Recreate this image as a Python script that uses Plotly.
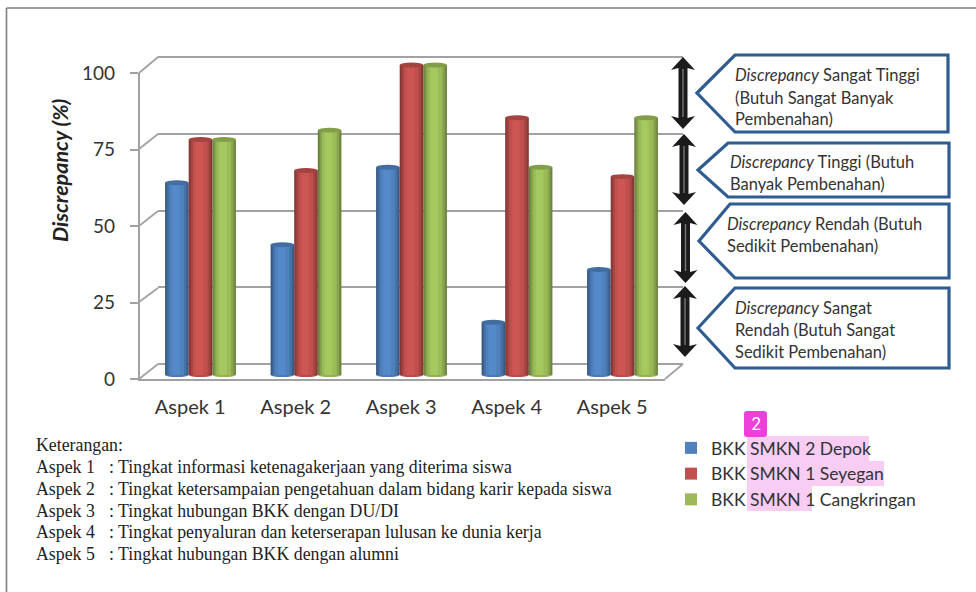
import plotly.graph_objects as go

W, H = 976, 592
categories = ["Aspek 1", "Aspek 2", "Aspek 3", "Aspek 4", "Aspek 5"]
series_names = ["BKK SMKN 2 Depok", "BKK SMKN 1 Seyegan", "BKK SMKN 1 Cangkringan"]
depok = [62, 42, 67, 17, 34]
seyegan = [76, 66, 100, 83, 64]
cangkringan = [76, 79, 100, 67, 83]
y_ticks = [0, 25, 50, 75, 100]

notes_title = "Keterangan:"
note_descriptions = [
    ": Tingkat informasi ketenagakerjaan yang diterima siswa",
    ": Tingkat ketersampaian pengetahuan dalam bidang karir kepada siswa",
    ": Tingkat hubungan BKK dengan DU/DI",
    ": Tingkat penyaluran dan keterserapan lulusan ke dunia kerja",
    ": Tingkat hubungan BKK dengan alumni",
]
callout_texts = [
    ["<i>Discrepancy</i> Sangat Tinggi", "(Butuh Sangat Banyak", "Pembenahan)"],
    ["<i>Discrepancy</i> Tinggi (Butuh", "Banyak Pembenahan)"],
    ["<i>Discrepancy</i> Rendah (Butuh", "Sedikit Pembenahan)"],
    ["<i>Discrepancy</i> Sangat", "Rendah (Butuh Sangat", "Sedikit Pembenahan)"],
]

BASE = [(79, 129, 189), (192, 80, 77), (155, 187, 89)]
LAYERS = [(0.0, 1.0, 0.66), (0.04, 0.96, 0.76), (0.10, 0.90, 0.88), (0.18, 0.80, 1.0), (0.30, 0.62, 1.07)]
SANS = "Lato"
SERIF = "Liberation Serif"
GRAY = "#a2a2a2"


def px(x):
    return x / W


def py(y):
    return 1 - y / H


def shade(rgb, f):
    return "rgb(%d,%d,%d)" % tuple(min(255, int(c * f)) for c in rgb)


def poly(points, **kw):
    path = "M" + " L".join(f"{px(x):.5f},{py(y):.5f}" for x, y in points) + " Z"
    return dict(type="path", xref="paper", yref="paper", path=path, **kw)


def seg(x0, y0, x1, y1, color=GRAY, width=1.8):
    return dict(type="line", xref="paper", yref="paper", x0=px(x0), y0=py(y0), x1=px(x1), y1=py(y1),
                line=dict(color=color, width=width), layer="below")


def rect(x0, y0, x1, y1, color, layer="below"):
    return dict(type="rect", xref="paper", yref="paper", x0=px(x0), y0=py(y0), x1=px(x1), y1=py(y1),
                fillcolor=color, line_width=0, layer=layer)


def label(x, y, text, font, **kw):
    base = dict(x=px(x), y=py(y), xref="paper", yref="paper", text=text, showarrow=False,
                xanchor="left", yanchor="middle", font=font)
    base.update(kw)
    return base


fig = go.Figure()
fig.add_trace(go.Scatter(x=[0], y=[0], mode="markers", marker_opacity=0, showlegend=False,
                         hoverinfo="skip", xaxis="x", yaxis="y"))
fig.add_trace(go.Scatter(x=[0], y=[0], mode="markers", marker_opacity=0, showlegend=False,
                         hoverinfo="skip", xaxis="x2", yaxis="y2"))

shapes = []
annotations = []

# page frame
shapes.append(seg(6.5, 592, 6.5, 8, "#808080", 1.6))
shapes.append(seg(6.5, 8, 976, 8, "#808080", 1.6))

# 3D box edges joining the front axis to the back wall
for t_front, t_back in [(379, 364), (302, 288), (226, 211), (149, 134), (73, 57)]:
    shapes.append(seg(139, t_front, 158, t_back))
shapes.append(seg(665, 379, 683, 364))

# cylinders
bar_w = 23.6 / 105.5
for s, (name, vals) in enumerate(zip(series_names, [depok, seyegan, cangkringan])):
    left = (s - 1.5) * bar_w
    for a, b, f in LAYERS:
        fig.add_trace(go.Bar(
            x=list(range(len(categories))), y=vals, name=name,
            width=(b - a) * bar_w, offset=left + a * bar_w,
            marker=dict(color=shade(BASE[s], f), line_width=0),
            showlegend=(f == 1.0), xaxis="x3", yaxis="y3", hoverinfo="skip",
        ))
    for i, v in enumerate(vals):
        x0, x1 = i + left, i + left + bar_w
        shapes.append(dict(type="circle", xref="x3", yref="y3", x0=x0, x1=x1, y0=-0.7, y1=0.7,
                           fillcolor=shade(BASE[s], 0.95), line_width=0, layer="between"))
        shapes.append(dict(type="circle", xref="x3", yref="y3", x0=x0, x1=x1, y0=v - 0.8, y1=v + 0.8,
                           fillcolor=shade(BASE[s], 0.85), line_width=0, layer="above"))

# callouts
callouts = [
    ((697, 93), 735, 55, 948, 132, 735, [75, 98, 119], 733),
    ((698, 170), 728, 143, 949, 197, 728, [162, 184], 728),
    ((699, 241), 730, 204, 949, 278, 735, [224, 246], 725),
    ((698, 328), 735, 288, 949, 368, 735, [308, 330, 352], 733),
]
callout_font = dict(family=SANS, size=16.5, color="#333333")
for (tip, tlx, ty, rx, by, blx, lines_y, tx), lines in zip(callouts, callout_texts):
    shapes.append(poly([tip, (tlx, ty), (rx, ty), (rx, by), (blx, by)],
                       fillcolor="white", line=dict(color="#2f5c91", width=3.2)))
    for ly, text in zip(lines_y, lines):
        annotations.append(label(tx, ly, text, callout_font))

# double arrows
for cx, y0, y1 in [(683, 57, 129), (684, 134, 205), (685.5, 212, 283), (685, 286, 357)]:
    hw, sw, hh = 12, 4.5, 13
    shapes.append(poly([(cx, y0), (cx + hw, y0 + hh), (cx + sw, y0 + hh - 2), (cx + sw, y1 - hh + 2),
                        (cx + hw, y1 - hh), (cx, y1), (cx - hw, y1 - hh), (cx - sw, y1 - hh + 2),
                        (cx - sw, y0 + hh - 2), (cx - hw, y0 + hh)], fillcolor="#1b1b1b", line_width=0))
    shapes.append(seg(cx, y0 + 12, cx, y1 - 12, "#777777", 1.4) | {"layer": "above"})

# highlights and badge in the legend area
for x0, y0, x1, y1 in [(747, 436, 869, 461), (747, 461, 884, 486), (747, 486, 812, 511)]:
    shapes.append(rect(x0, y0, x1, y1, "#f8cdf3"))
bx0, bx1, by0, by1, r = px(744), px(767), py(437), py(411), 3 / W
ry = 3 / H
shapes.append(dict(type="path", xref="paper", yref="paper", fillcolor="#ee3fd9", line_width=0,
                   path=f"M{bx0 + r},{by0} L{bx1 - r},{by0} Q{bx1},{by0} {bx1},{by0 + ry} L{bx1},{by1 - ry} "
                        f"Q{bx1},{by1} {bx1 - r},{by1} L{bx0 + r},{by1} Q{bx0},{by1} {bx0},{by1 - ry} "
                        f"L{bx0},{by0 + ry} Q{bx0},{by0} {bx0 + r},{by0} Z"))
annotations.append(label(755.5, 424, "2", dict(family="Inter", size=17, color="white"), xanchor="center"))

# y title
annotations.append(label(60, 170, "<b><i>Discrepancy (%)</i></b>", dict(family=SANS, size=21.5, color="#222222"),
                         xanchor="center", textangle=-90))

# notes
note_font = dict(family=SERIF, size=17.8, color="#222222")
annotations.append(label(34, 445, notes_title, note_font))
for i, (cat, desc) in enumerate(zip(categories, note_descriptions)):
    ly = [467, 489, 511, 532, 554][i]
    annotations.append(label(34, ly, cat, note_font))
    annotations.append(label(107, ly, desc, note_font))

fig.update_layout(
    width=W, height=H, margin=dict(l=0, r=0, t=0, b=0, autoexpand=False), autosize=False,
    paper_bgcolor="white", plot_bgcolor="rgba(0,0,0,0)", barmode="overlay",
    shapes=shapes, annotations=annotations,
    legend=dict(x=px(671), y=py(430), xanchor="left", yanchor="top", bgcolor="rgba(0,0,0,0)",
                font=dict(family=SANS, size=17.5, color="#333333")),
    # back wall
    xaxis=dict(domain=[px(158), px(683)], range=[0, 1], visible=False, anchor="y"),
    yaxis=dict(domain=[py(367.07), py(53.93)], range=[-1, 101], tickvals=y_ticks, showticklabels=False, ticks="",
               showgrid=True, gridcolor=GRAY, gridwidth=1.8, zeroline=False, showline=False, anchor="x"),
    # front axes
    xaxis2=dict(domain=[px(137.5), px(665)], range=[-0.5, 4.5], tickvals=list(range(len(categories))),
                ticktext=categories, showline=True, linecolor=GRAY, linewidth=2.4, showgrid=False,
                zeroline=False, ticks="", ticklabelstandoff=9, anchor="y2",
                tickfont=dict(family=SANS, size=20, color="#333333")),
    yaxis2=dict(domain=[py(379), py(73)], range=[0, 100], tickvals=y_ticks, showline=True, linecolor=GRAY,
                linewidth=2.4, showgrid=False, zeroline=False, ticks="outside", ticklen=8, tickcolor=GRAY,
                tickwidth=1.6, ticklabelstandoff=11, anchor="free", position=px(139),
                tickfont=dict(family=SANS, size=19, color="#333333")),
    # cylinders
    xaxis3=dict(domain=[px(147.75), px(675.25)], range=[-0.5, 4.5], visible=False, anchor="y3"),
    yaxis3=dict(domain=[py(390.45), py(49.55)], range=[-5, 105], visible=False, anchor="x3"),
)

fig.write_html("out.html", config={"displayModeBar": False}, post_script="document.body.style.margin='0';")
